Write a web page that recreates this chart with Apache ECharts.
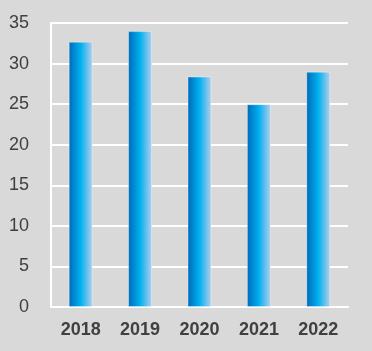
<!DOCTYPE html>
<html>
<head>
<meta charset="utf-8">
<script src="https://cdn.jsdelivr.net/npm/echarts@6/dist/echarts.min.js"></script>
<style>
    html, body {margin: 0; padding: 0; background: #d9d9d9;}
    #chart {width: 372px; height: 351px;}
</style>
</head>
<body>
<div id="chart"></div>
<script>
const years = ['2018', '2019', '2020', '2021', '2022'];
const values = [32.7, 34, 28.4, 25, 29];
const yTicks = [0, 5, 10, 15, 20, 25, 30, 35];

const chart = echarts.init(document.getElementById('chart'));
const barColor = new echarts.graphic.LinearGradient(0, 0, 1, 0, [
    {offset: 0, color: '#0068B8'},
    {offset: 0.5, color: '#00B0F0'},
    {offset: 1, color: '#B8CFEC'},
]);
chart.setOption({
    backgroundColor: '#d9d9d9',
    animation: false,
    grid: {left: 51, right: 24, top: 23, bottom: 44},
    xAxis: {
        type: 'category',
        data: years,
        axisLine: {lineStyle: {color: '#ffffff', width: 2}},
        axisTick: {show: false},
        axisLabel: {
            color: '#404040',
            fontFamily: 'Liberation Sans',
            fontSize: 18,
            fontWeight: 'bold',
            margin: 14,
        },
    },
    yAxis: {
        type: 'value',
        min: yTicks[0],
        max: yTicks[yTicks.length - 1],
        interval: 5,
        axisLine: {show: true, lineStyle: {color: '#ffffff', width: 2}},
        axisTick: {show: false},
        splitLine: {lineStyle: {color: '#ffffff', width: 2}},
        axisLabel: {
            color: '#404040',
            fontFamily: 'Liberation Sans',
            fontSize: 18,
            margin: 22,
        },
    },
    series: [{
        type: 'bar',
        data: values,
        barWidth: 24,
        itemStyle: {
            color: barColor,
            borderColor: 'rgba(255,255,255,0.35)',
            borderWidth: 1,
        },
    }],
});
</script>
</body>
</html>
